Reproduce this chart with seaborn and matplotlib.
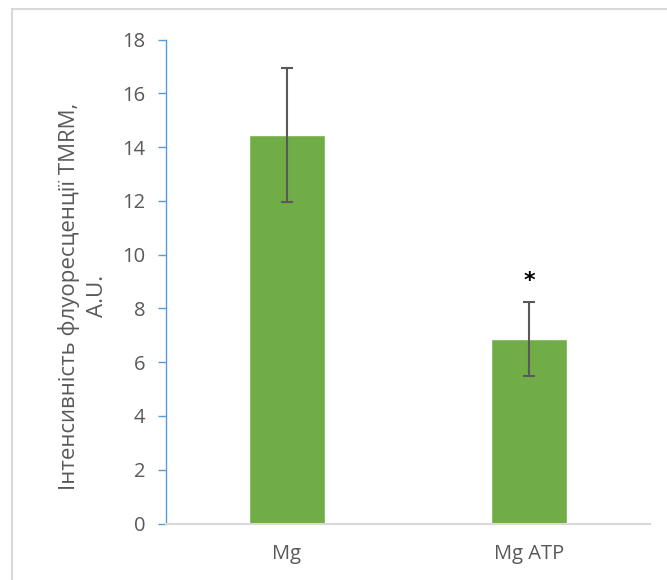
import matplotlib
matplotlib.use("Agg")

import matplotlib.pyplot as plt
from matplotlib.patches import Rectangle
import seaborn as sns


# Data
categories = ["Mg", "Mg ATP"]
means = [14.45, 6.87]
errors = [2.48, 1.38]
marks = ["", "*"]

y_label = "Інтенсивність флуоресценції TMRM,\nA.U."
y_ticks = [0, 2, 4, 6, 8, 10, 12, 14, 16, 18]


# Style
sns.set_theme(style="white")
plt.rcParams["font.family"] = ["Open Sans", "DejaVu Sans"]

bar_color = "#70AD47"
text_color = "#595959"
axis_blue = "#5B9BD5"
axis_gray = "#D9D9D9"


fig = plt.figure(figsize=(6.67, 5.8), dpi=100)
ax = fig.add_axes([166 / 667, 1 - 523.5 / 580, 484 / 667, 484 / 580])

sns.barplot(
    x=categories,
    y=means,
    color=bar_color,
    saturation=1,
    width=0.314,
    errorbar=None,
    ax=ax
)

ax.errorbar(
    range(len(categories)),
    means,
    yerr=errors,
    fmt="none",
    ecolor=text_color,
    elinewidth=1.5,
    capsize=4.5,
    capthick=1.5
)

for i, mark in enumerate(marks):
    if mark:
        ax.text(
            i,
            means[i] + errors[i] + 0.4,
            mark,
            ha="center",
            va="bottom",
            fontsize=16,
            fontweight="bold",
            color="black",
            family="DejaVu Sans"
        )

ax.set_ylim(0, 18)
ax.set_xlim(-0.5, len(categories) - 0.5)
ax.set_yticks(y_ticks)

ax.set_ylabel(
    y_label,
    fontsize=16,
    color=text_color,
    linespacing=1.45,
    multialignment="center"
)
ax.yaxis.set_label_coords(-0.12, 0.47)
ax.set_xlabel("")

for side in ["top", "right"]:
    ax.spines[side].set_visible(False)

ax.spines["left"].set_color(axis_blue)
ax.spines["left"].set_linewidth(1.0)
ax.spines["bottom"].set_color(axis_gray)
ax.spines["bottom"].set_linewidth(1.5)

ax.tick_params(
    axis="y",
    direction="out",
    length=6,
    width=1.0,
    color=axis_blue,
    pad=9,
    labelsize=14.5,
    labelcolor=text_color,
    left=True
)
ax.tick_params(
    axis="x",
    length=0,
    pad=15,
    labelsize=14.5,
    labelcolor=text_color
)

# Chart area border as in the spreadsheet export
fig.patches.append(
    Rectangle(
        (12 / 667, -0.1),
        1.2,
        1 - 9 / 580 + 0.1,
        transform=fig.transFigure,
        fill=False,
        edgecolor=axis_gray,
        linewidth=1.5
    )
)

fig.savefig("out.png", dpi=100)
